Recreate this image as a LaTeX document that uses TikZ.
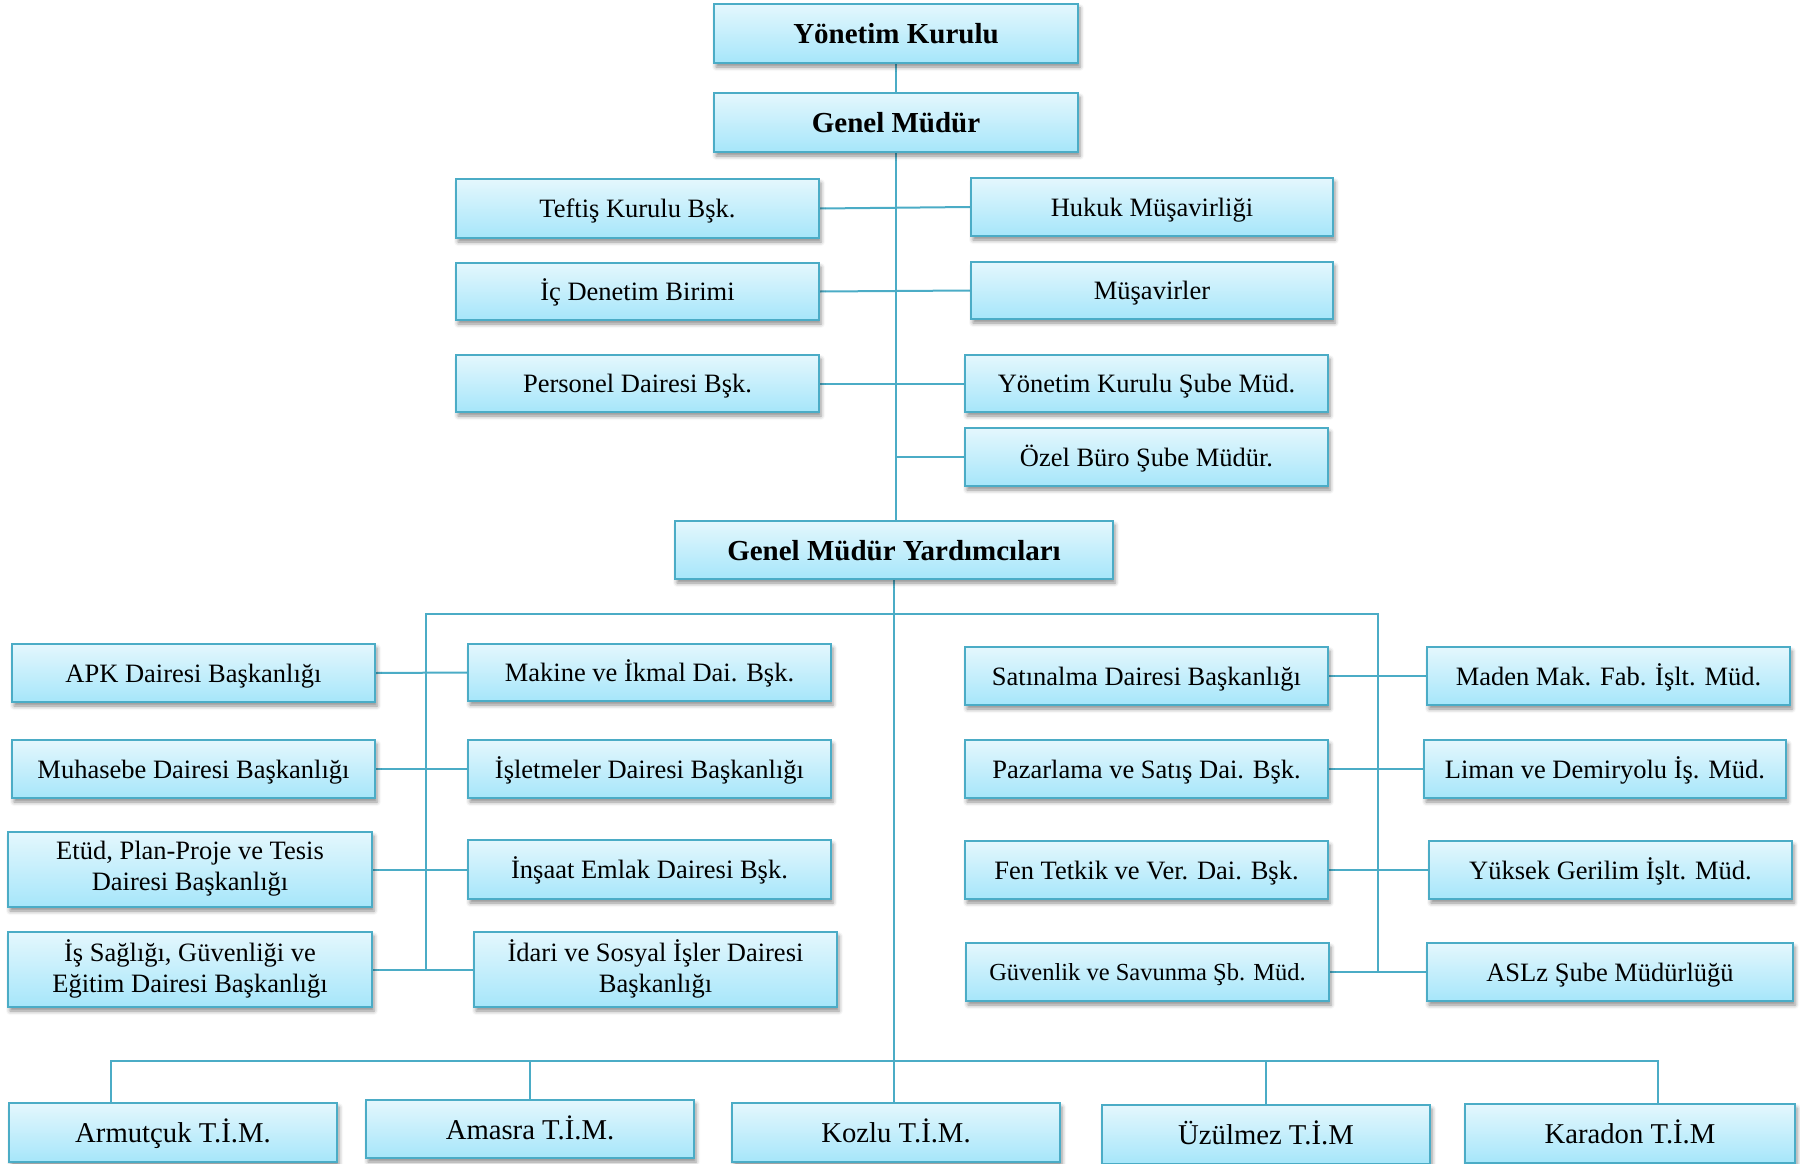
\documentclass[tikz,border=0pt]{standalone}
\usepackage{fontspec}
\setmainfont{Liberation Serif}
\usetikzlibrary{shadows.blur,backgrounds}
\definecolor{bordc}{HTML}{4BACC6}
\definecolor{topc}{HTML}{E4F7FD}
\definecolor{botc}{HTML}{A6E6FA}
\newcommand\boxstrut{\rule[-0.25em]{0pt}{1.2em}}
\tikzset{
  box/.style={draw=bordc, line width=2.2pt, top color=topc, bottom color=botc,
    inner sep=0pt, align=center, font=\fontsize{26.5pt}{31pt}\selectfont,
    execute at begin node=\boxstrut,
    blur shadow={shadow xshift=2pt, shadow yshift=-4pt, shadow blur radius=4pt, shadow opacity=45}},
  sz/.style 2 args={minimum width=#1pt, minimum height=#2pt},
  boldtxt/.style={font=\fontsize{29pt}{34pt}\selectfont\bfseries},
  bigtxt/.style={font=\fontsize{28.7pt}{33pt}\selectfont},
  smalltxt/.style={font=\fontsize{24.5pt}{29pt}\selectfont},
  conn/.style={draw=bordc, line width=2pt}
}
\begin{document}
\begin{tikzpicture}[x=1pt,y=-1pt]
\useasboundingbox (0,0) rectangle (1800,1164);
% top
\node[box,boldtxt,sz={364}{59}] (yk) at (896,33.5) {Yönetim Kurulu};
\node[box,boldtxt,sz={364}{59}] (gm) at (896,122.5) {Genel Müdür};
\node[box,sz={363}{59}] (teftis) at (637.5,208.5) {Teftiş Kurulu Bşk.};
\node[box,sz={362}{58}] (hukuk) at (1152,207) {Hukuk Müşavirliği};
\node[box,sz={363}{57}] (icden) at (637.5,291.5) {İç Denetim Birimi};
\node[box,sz={362}{57}] (musav) at (1152,290.5) {Müşavirler};
\node[box,sz={363}{57}] (pers) at (637.5,383.5) {Personel Dairesi Bşk.};
\node[box,sz={363}{57}] (yksube) at (1146.5,383.5) {Yönetim Kurulu Şube Müd.};
\node[box,sz={363}{58}] (ozel) at (1146.5,457) {Özel Büro Şube Müdür.};
\node[box,boldtxt,sz={438}{58}] (gmy) at (894,550) {Genel Müdür Yardımcıları};
% left groups
\node[box,sz={363}{58}] (apk) at (193.5,673) {APK Dairesi Başkanlığı};
\node[box,sz={363}{58}] (muh) at (193.5,769) {Muhasebe Dairesi Başkanlığı};
\node[box,sz={364}{75}] (etud) at (190,869.5) {Etüd, Plan-Proje ve Tesis\\Dairesi Başkanlığı};
\node[box,sz={364}{75}] (issag) at (190,969.5) {İş Sağlığı, Güvenliği ve\\Eğitim Dairesi Başkanlığı};
\node[box,sz={363}{57}] (makine) at (649.5,672.5) {Makine ve İkmal Dai. Bşk.};
\node[box,sz={363}{58}] (islet) at (649.5,769) {İşletmeler Dairesi Başkanlığı};
\node[box,sz={363}{59}] (insaat) at (649.5,869.5) {İnşaat Emlak Dairesi Bşk.};
\node[box,sz={363}{75}] (idari) at (655.5,969.5) {İdari ve Sosyal İşler Dairesi\\Başkanlığı};
% right groups
\node[box,sz={363}{58}] (satin) at (1146.5,676) {Satınalma Dairesi Başkanlığı};
\node[box,sz={363}{58}] (pazar) at (1146.5,769) {Pazarlama ve Satış Dai. Bşk.};
\node[box,sz={363}{58}] (fen) at (1146.5,870) {Fen Tetkik ve Ver. Dai. Bşk.};
\node[box,smalltxt,sz={363}{58}] (guven) at (1147.5,972) {Güvenlik ve Savunma Şb. Müd.};
\node[box,sz={363}{58}] (maden) at (1608.5,676) {Maden Mak. Fab. İşlt. Müd.};
\node[box,sz={362}{58}] (liman) at (1605,769) {Liman ve Demiryolu İş. Müd.};
\node[box,sz={363}{58}] (yuksek) at (1610.5,870) {Yüksek Gerilim İşlt. Müd.};
\node[box,sz={366}{58}] (aslz) at (1610,972) {ASLz Şube Müdürlüğü};
% bottom row
\node[box,bigtxt,sz={328}{59}] (armut) at (173,1132.5) {Armutçuk T.İ.M.};
\node[box,bigtxt,sz={328}{58}] (amasra) at (530,1129) {Amasra T.İ.M.};
\node[box,bigtxt,sz={328}{59}] (kozlu) at (896,1132.5) {Kozlu T.İ.M.};
\node[box,bigtxt,sz={328}{59}] (uzul) at (1266,1134.5) {Üzülmez T.İ.M};
\node[box,bigtxt,sz={330}{59}] (karadon) at (1630,1133.5) {Karadon T.İ.M};
% coordinates
\coordinate (busL) at (426,614);
\coordinate (busR) at (1378,614);
\coordinate (trunk) at (895,457);
\coordinate (botL) at (111,1061);
\coordinate (botR) at (1658,1061);
\begin{scope}[on background layer]
\draw[conn] (yk.south) -- (gm.north);
\draw[conn] (gm.south) -- (gm.south |- gmy.north);
\draw[conn] (teftis.east) -- (hukuk.west);
\draw[conn] (icden.east) -- (musav.west);
\draw[conn] (pers.east) -- (yksube.west);
\draw[conn] (trunk) -- (ozel.west);
\draw[conn] (gmy.south) -- (gmy.south |- kozlu.north);
\draw[conn] (busL |- issag.east) -- (busL) -- (busR) -- (busR |- guven.east);
\draw[conn] (apk.east) -- (makine.west);
\draw[conn] (muh.east) -- (islet.west);
\draw[conn] (etud.east) -- (insaat.west);
\draw[conn] (issag.east) -- (idari.west);
\draw[conn] (satin.east) -- (maden.west);
\draw[conn] (pazar.east) -- (liman.west);
\draw[conn] (fen.east) -- (yuksek.west);
\draw[conn] (guven.east) -- (aslz.west);
\draw[conn] (botL |- armut.north) -- (botL) -- (botR) -- (botR |- karadon.north);
\draw[conn] (amasra.north) -- (amasra.north |- botL);
\draw[conn] (uzul.north) -- (uzul.north |- botL);
\end{scope}
\end{tikzpicture}
\end{document}
